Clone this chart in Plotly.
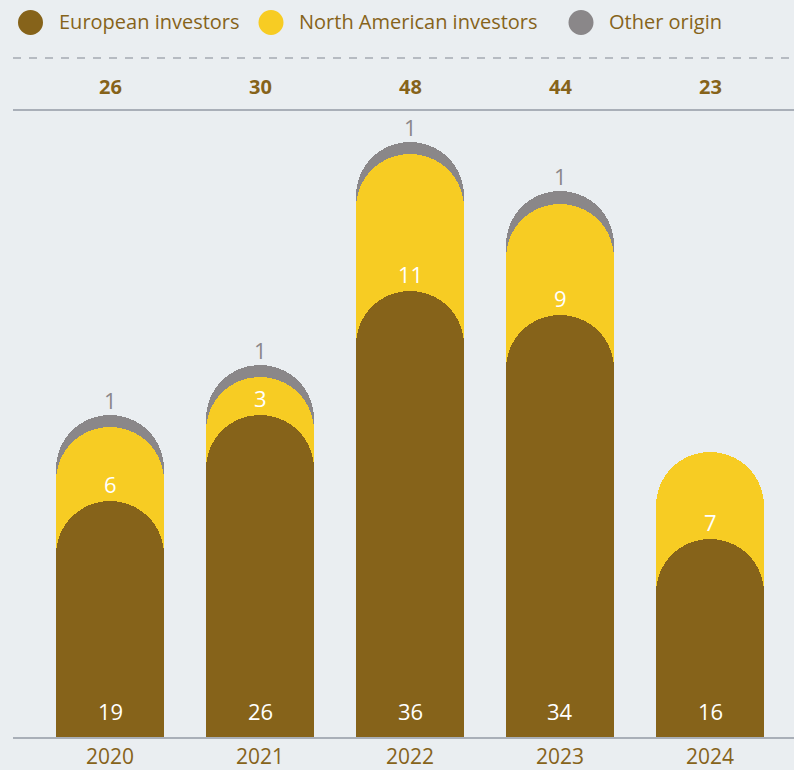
import plotly.graph_objects as go

years = ["2020", "2021", "2022", "2023", "2024"]
european = [19, 26, 36, 34, 16]
north_american = [6, 3, 11, 9, 7]
other = [1, 1, 1, 1, 0]
totals = [26, 30, 48, 44, 23]
legend_names = ["European investors", "North American investors", "Other origin"]

BROWN = "#86631A"
YELLOW = "#F7CC23"
GREY = "#8A8789"
BG = "#EAEEF1"
LINE = "#A9AFB8"
FONT = "Open Sans"

W, H = 794, 770
L, B = 13, 33
PW, PH = W - L, H - B
YMAX = PH / 12.4
XR = [-0.647, 4.56]


def px(x):
    return (x - L) / PW


def py(y):
    return (H - B - y) / PH


cum_na = [e + n for e, n in zip(european, north_american)]
cum_all = [e + n + o for e, n, o in zip(european, north_american, other)]

fig = go.Figure()
fig.add_trace(go.Bar(x=years, y=cum_all, marker=dict(color=GREY, line=dict(width=0)),
                     width=0.72, showlegend=False, hoverinfo="skip", xaxis="x"))
fig.add_trace(go.Bar(x=years, y=cum_na, marker=dict(color=YELLOW, line=dict(width=0)),
                     width=0.72, showlegend=False, hoverinfo="skip", xaxis="x2"))
fig.add_trace(go.Bar(x=years, y=european, marker=dict(color=BROWN, line=dict(width=0)),
                     width=0.72, showlegend=False, hoverinfo="skip", xaxis="x3"))

ann = []
for i, yr in enumerate(years):
    ann.append(dict(x=i, y=0, text=str(european[i]), showarrow=False, yanchor="bottom",
                    yshift=9, font=dict(family=FONT, size=22, color="white")))
    ann.append(dict(x=i, y=european[i], text=str(north_american[i]), showarrow=False,
                    yanchor="middle", yshift=17, font=dict(family=FONT, size=22, color="white")))
    if other[i] > 0:
        ann.append(dict(x=i, y=cum_all[i], text=str(other[i]), showarrow=False,
                        yanchor="middle", yshift=15, font=dict(family=FONT, size=22, color=GREY)))
    ann.append(dict(x=i, yref="paper", y=py(86.5), text="<b>%d</b>" % totals[i], showarrow=False,
                    yanchor="middle", font=dict(family=FONT, size=20, color=BROWN)))

shapes = []
leg_cx = [30.5, 271, 581]
leg_tx = [57, 297, 607]
leg_col = [BROWN, YELLOW, GREY]
for cx, tx, col, name in zip(leg_cx, leg_tx, leg_col, legend_names):
    shapes.append(dict(type="circle", xref="paper", yref="paper",
                       x0=px(cx - 12.5), x1=px(cx + 12.5), y0=py(22.5 + 12.5), y1=py(22.5 - 12.5),
                       fillcolor=col, line=dict(width=0)))
    ann.append(dict(xref="paper", yref="paper", x=px(tx), y=py(21.5), text=name, showarrow=False,
                    xanchor="left", yanchor="middle", font=dict(family=FONT, size=20, color=BROWN)))

shapes.append(dict(type="line", xref="paper", yref="paper", x0=0, x1=1, y0=py(58), y1=py(58),
                   line=dict(color="#B6BBC2", width=2, dash="8px,8px")))
shapes.append(dict(type="line", xref="paper", yref="paper", x0=0, x1=1, y0=py(110), y1=py(110),
                   line=dict(color=LINE, width=2)))

hidden_x = dict(type="category", range=XR, overlaying="x", visible=False, fixedrange=True,
                categoryorder="array", categoryarray=years)

fig.update_layout(
    width=W, height=H,
    margin=dict(l=L, r=0, t=0, b=B, pad=0, autoexpand=False),
    paper_bgcolor=BG, plot_bgcolor=BG,
    barmode="overlay", barcornerradius=54, bargap=0,
    annotations=ann, shapes=shapes, showlegend=False,
    xaxis=dict(type="category", categoryorder="array", categoryarray=years, range=XR,
               showgrid=False, zeroline=False, showline=True, automargin=False,
               linecolor=LINE, linewidth=2, ticks="", ticklabelstandoff=0,
               tickfont=dict(family=FONT, size=21, color=BROWN), fixedrange=True),
    xaxis2=hidden_x,
    xaxis3=hidden_x,
    yaxis=dict(range=[0, YMAX], showgrid=False, zeroline=False, showticklabels=False,
               visible=False, fixedrange=True, automargin=False),
)

fig.write_html("out.html", config={"displayModeBar": False},
               post_script="document.body.style.margin='0';document.body.style.overflow='hidden';")
